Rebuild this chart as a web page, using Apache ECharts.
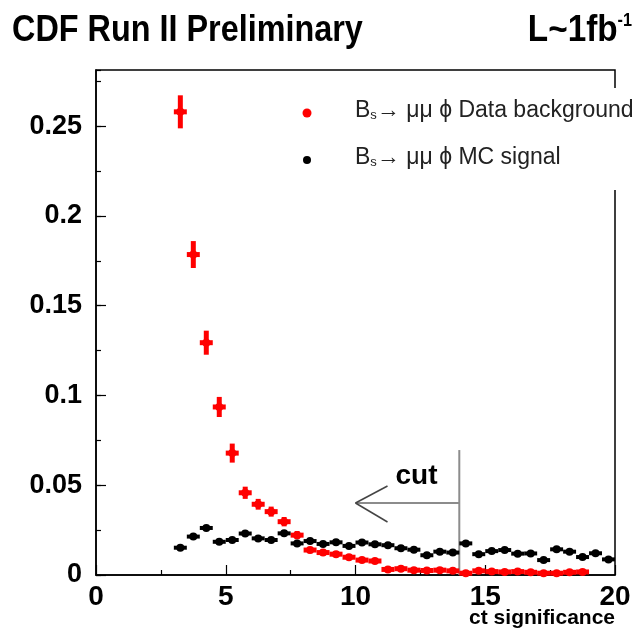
<!DOCTYPE html>
<html><head><meta charset="utf-8">
<script src="https://cdn.jsdelivr.net/npm/echarts@6/dist/echarts.min.js"></script>
<style>html,body{margin:0;padding:0;background:#fff}#c{width:640px;height:633px}</style>
</head><body><div id="c"></div>
<script>
// bin centres (bin width 0.5)
const redX = [3.25,3.75,4.25,4.75,5.25,5.75,6.25,6.75,7.25,7.75,8.25,8.75,9.25,9.75,10.25,10.75,11.25,11.75,12.25,12.75,13.25,13.75,14.25,14.75,15.25,15.75,16.25,16.75,17.25,17.75,18.25,18.75];
const redY = [0.258,0.1785,0.1294,0.0936,0.0679,0.0458,0.0394,0.0353,0.0297,0.0222,0.0139,0.0125,0.0116,0.0099,0.0083,0.0078,0.0031,0.0035,0.0027,0.0025,0.0027,0.0023,0.001,0.0023,0.0019,0.0017,0.0019,0.0015,0.001,0.001,0.0015,0.0017];
const redErr = [0.0092,0.0075,0.0067,0.0056,0.0053,0.0034,0.003,0.0028,0.0026,0.0023,0.0018,0.0017,0.0016,0.0015,0.0014,0.0014,0.0009,0.0009,0.0008,0.0008,0.0008,0.0008,0.0005,0.0008,0.0007,0.0007,0.0007,0.0006,0.0005,0.0005,0.0006,0.0007];
const blackX = [3.25,3.75,4.25,4.75,5.25,5.75,6.25,6.75,7.25,7.75,8.25,8.75,9.25,9.75,10.25,10.75,11.25,11.75,12.25,12.75,13.25,13.75,14.25,14.75,15.25,15.75,16.25,16.75,17.25,17.75,18.25,18.75,19.25,19.75];
const blackY = [0.0152,0.0214,0.0262,0.0185,0.0195,0.0231,0.0204,0.0195,0.0232,0.0176,0.0189,0.0173,0.0182,0.0162,0.0181,0.0171,0.0166,0.0149,0.0141,0.011,0.013,0.0125,0.0176,0.0116,0.0133,0.0139,0.0119,0.012,0.0083,0.0143,0.013,0.01,0.0121,0.0087];
const blackErr = [0.0012,0.0012,0.0012,0.0012,0.0012,0.0012,0.0012,0.0012,0.0012,0.0012,0.0012,0.0012,0.0012,0.0012,0.0012,0.0012,0.0012,0.0012,0.0012,0.0012,0.0012,0.0012,0.0012,0.0012,0.0012,0.0012,0.0012,0.0012,0.0012,0.0012,0.0012,0.0012,0.0012,0.0012];
const binHalf = 0.25;
const yTicks = ['0','0.05','0.1','0.15','0.2','0.25'];
const xTicks = ['0','5','10','15','20'];
// cut annotation
const cutX = 14, cutTop = 0.0696, arrowY = 0.0401, arrowTip = 10;

const SANS = "'Liberation Sans',Arial,sans-serif";

const chart = echarts.init(document.getElementById('c'), null, {renderer:'canvas'});

function errItem(color, lw, r) {
  return function(params, api) {
    const x = api.value(0), y = api.value(1), e = api.value(2);
    const pL = api.coord([x - binHalf, y]), pR = api.coord([x + binHalf, y]);
    const pT = api.coord([x, y + e]), pB = api.coord([x, y - e]);
    const c = api.coord([x, y]);
    return {type:'group', children:[
      {type:'line', shape:{x1:pL[0],y1:pL[1],x2:pR[0],y2:pR[1]}, style:{stroke:color,lineWidth:lw}},
      {type:'line', shape:{x1:pT[0],y1:pT[1],x2:pB[0],y2:pB[1]}, style:{stroke:color,lineWidth:lw}},
      {type:'circle', shape:{cx:c[0],cy:c[1],r:r}, style:{fill:color}}
    ]};
  };
}

const yMax = 0.2813;

chart.setOption({
  animation:false,
  backgroundColor:'#fff',
  grid:{left:96, top:70, right:25, bottom:58, show:true, borderColor:'#000', borderWidth:1.5, backgroundColor:'transparent'},
  xAxis:{type:'value', min:0, max:20, interval:5,
    axisLine:{lineStyle:{color:'#000',width:1.5}},
    axisTick:{inside:true, length:10, lineStyle:{color:'#000',width:1.2}},
    minorTick:{show:true, splitNumber:2, length:5, lineStyle:{color:'#000',width:1.2}},
    splitLine:{show:false},
    axisLabel:{fontFamily:SANS, fontWeight:'bold', fontSize:28, color:'#000', margin:8,
      formatter:(v)=> xTicks.includes(String(v)) ? String(v) : ''}
  },
  yAxis:[
    {type:'value', min:0, max:yMax, interval:0.05,
      axisLine:{lineStyle:{color:'#000',width:1.5}},
      axisTick:{inside:true, length:10, lineStyle:{color:'#000',width:1.2}},
      splitLine:{show:false},
      axisLabel:{fontFamily:SANS, fontWeight:'bold', fontSize:27, color:'#000', margin:14, showMaxLabel:false,
        formatter:(v)=>{ const s = String(+v.toFixed(3)); return yTicks.includes(s) ? s : ''; }}
    },
    {type:'value', min:0, max:yMax, interval:0.025, position:'left',
      axisLine:{show:false},
      axisTick:{inside:true, length:5, lineStyle:{color:'#000',width:1.2}},
      splitLine:{show:false}, axisLabel:{show:false}
    }
  ],
  series:[
    {type:'custom', name:'bg', xAxisIndex:0, yAxisIndex:0, z:3,
      data: redX.map((x,i)=>[x, redY[i], redErr[i]]),
      renderItem: errItem('#ff0000', 5, 4)},
    {type:'custom', name:'sig', xAxisIndex:0, yAxisIndex:0, z:4,
      data: blackX.map((x,i)=>[x, blackY[i], blackErr[i]]),
      renderItem: errItem('#000000', 4, 4)},
    {type:'custom', name:'cut', xAxisIndex:0, yAxisIndex:0, z:2,
      data: [[cutX, cutTop, arrowY, arrowTip]],
      renderItem: function(params, api){
        const cx = api.value(0), top = api.value(1), ay = api.value(2), tip = api.value(3);
        const p0 = api.coord([cx, 0]), p1 = api.coord([cx, top]);
        const a0 = api.coord([cx, ay]), a1 = api.coord([tip, ay]);
        const st = {stroke:'#8c8c8c', lineWidth:2};
        return {type:'group', children:[
          {type:'line', shape:{x1:p0[0],y1:p0[1],x2:p1[0],y2:p1[1]}, style:st},
          {type:'line', shape:{x1:a0[0],y1:a0[1],x2:a1[0],y2:a1[1]}, style:st},
          {type:'line', shape:{x1:a1[0],y1:a1[1],x2:a1[0]+32,y2:a1[1]-17}, style:{stroke:'#444',lineWidth:1.5}},
          {type:'line', shape:{x1:a1[0],y1:a1[1],x2:a1[0]+32,y2:a1[1]+19}, style:{stroke:'#444',lineWidth:1.5}},
          {type:'text', style:{text:'cut', x:a1[0]+40, y:a1[1]-27, fontFamily:SANS, fontWeight:'bold', fontSize:28, fill:'#000', textAlign:'left', textVerticalAlign:'middle'}}
        ]};
      }}
  ],
  graphic:[
    {type:'text', x:12, y:12, scaleX:0.875, z:10, style:{text:'CDF Run II Preliminary', fontFamily:SANS, fontWeight:'bold', fontSize:37, fill:'#000'}},
    {type:'text', x:632, y:12, scaleX:0.9, z:10, style:{text:'{a|L~1fb}{b|-1}', align:'right', rich:{a:{fontFamily:SANS, fontWeight:'bold', fontSize:37, fill:'#000'}, b:{fontFamily:SANS, fontWeight:'bold', fontSize:18, fill:'#000', verticalAlign:'top', padding:[0,0,14,0]}}}},
    {type:'rect', shape:{x:608, y:88, width:14, height:102}, style:{fill:'#fff'}, z:20},
    {type:'circle', shape:{cx:307, cy:113, r:4.5}, style:{fill:'#ff0000'}, z:21},
    {type:'circle', shape:{cx:307, cy:160, r:4}, style:{fill:'#000'}, z:21},
    {type:'text', left:355, top:99, z:21, style:{text:'{a|B}{s|s}{a|→ μμ ϕ Data background}', rich:{a:{fontFamily:SANS, fontSize:23, fill:'#222'}, s:{fontFamily:SANS, fontSize:13, fill:'#222', padding:[10,0,0,0]}}}},
    {type:'text', left:355, top:146, z:21, style:{text:'{a|B}{s|s}{a|→ μμ ϕ MC signal}', rich:{a:{fontFamily:SANS, fontSize:23, fill:'#222'}, s:{fontFamily:SANS, fontSize:13, fill:'#222', padding:[10,0,0,0]}}}},
    {type:'text', right:25, top:608, z:10, style:{text:'ct significance', fontFamily:SANS, fontWeight:'bold', fontSize:21, fill:'#000'}}
  ]
});
</script></body></html>
